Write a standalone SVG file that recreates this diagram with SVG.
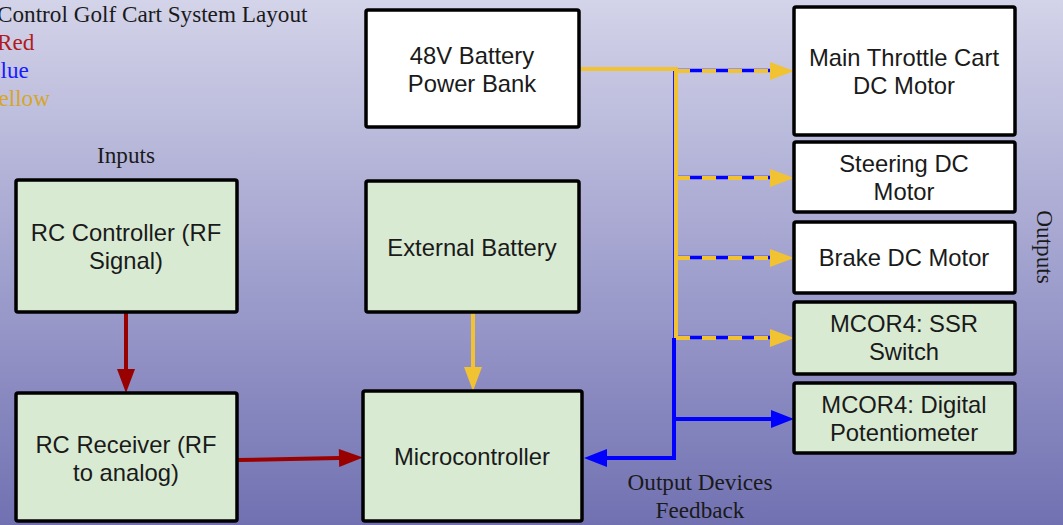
<svg xmlns="http://www.w3.org/2000/svg" width="1063" height="525" viewBox="0 0 1063 525">
<defs>
<linearGradient id="bg" x1="0" y1="0" x2="0" y2="1">
<stop offset="0" stop-color="#d3d3e9"/>
<stop offset="0.5" stop-color="#a2a2cf"/>
<stop offset="1" stop-color="#7171b2"/>
</linearGradient>
<marker id="ay" markerUnits="userSpaceOnUse" markerWidth="24" markerHeight="18" refX="0" refY="9" orient="auto" overflow="visible">
<path d="M0,0 L24,9 L0,18 z" fill="#f1c232"/>
</marker>
<marker id="ab" markerUnits="userSpaceOnUse" markerWidth="24" markerHeight="18" refX="0" refY="9" orient="auto" overflow="visible">
<path d="M0,0 L23,9 L0,18 z" fill="#0000ff"/>
</marker>
<marker id="ar" markerUnits="userSpaceOnUse" markerWidth="24" markerHeight="18" refX="0" refY="9" orient="auto" overflow="visible">
<path d="M0,0 L24,9 L0,18 z" fill="#990000"/>
</marker>
</defs>
<style>
.box{stroke:#000;stroke-width:3.5}
.g{fill:#d9ead3}
.w{fill:#ffffff}
.lbl{font-family:"Liberation Sans",Arial,sans-serif;font-size:23.8px;fill:#1a1a1a;text-anchor:middle}
.ser{font-family:"Liberation Serif","Times New Roman",serif;font-size:23.2px;fill:#1a1a1a}
.y{fill:none;stroke:#f1c232;stroke-width:4}
.yd{fill:none;stroke:#f1c232;stroke-width:4;stroke-dasharray:14 12}
.bt{fill:none;stroke:#1a1aff;stroke-width:2}
.bd{fill:none;stroke:#0000ff;stroke-width:3.5}
.b{fill:none;stroke:#0000ff;stroke-width:4}
.r{fill:none;stroke:#990000;stroke-width:4}
</style>
<rect x="0" y="0" width="1063" height="525" fill="url(#bg)"/>

<g id="legend">
<text class="ser" x="-3" y="22">Control Golf Cart System Layout</text>
<text class="ser" x="-3" y="50" style="fill:#b01c1c">Red</text>
<text class="ser" x="-15" y="78" style="fill:#1a1aff">Blue</text>
<text class="ser" x="-16" y="106" style="fill:#d6a62a">Yellow</text>
<text class="ser" x="126" y="163" text-anchor="middle">Inputs</text>
<text class="ser" x="700" y="490" text-anchor="middle">Output Devices</text>
<text class="ser" x="700" y="518" text-anchor="middle">Feedback</text>
<text class="ser" transform="translate(1037,247) rotate(90)" text-anchor="middle">Outputs</text>
</g>

<g id="connectors">
<!-- blue feedback trunk -->
<path class="bt" d="M674,69 L674,338"/>
<path class="b" d="M674,338 L674,458 L607,458" marker-end="url(#ab)"/>
<path class="b" d="M674,419 L771,419" marker-end="url(#ab)"/>
<!-- blue under dashed branches -->
<path class="bd" d="M676,70.5 L772,70.5"/>
<path class="bd" d="M676,177.5 L772,177.5"/>
<path class="bd" d="M676,257.5 L772,257.5"/>
<path class="bd" d="M676,337.5 L772,337.5"/>
<!-- yellow power -->
<path class="y" d="M580,69 L676,69 L676,338"/>
<path class="yd" d="M676,71 L770,71" marker-end="url(#ay)"/>
<path class="yd" d="M676,178 L770,178" marker-end="url(#ay)"/>
<path class="yd" d="M676,258 L770,258" marker-end="url(#ay)"/>
<path class="yd" d="M676,338 L770,338" marker-end="url(#ay)"/>
<path class="y" d="M473,312 L473,367" marker-end="url(#ay)"/>
<!-- red signal -->
<path class="r" d="M126,312 L126,369" marker-end="url(#ar)"/>
<path class="r" d="M237,460 L339,458" marker-end="url(#ar)"/>
</g>

<g id="battery48">
<rect class="box w" x="366" y="10" width="213" height="117" rx="2"/>
<text class="lbl" x="472" y="64">48V Battery</text>
<text class="lbl" x="472" y="92">Power Bank</text>
</g>

<g id="extbattery">
<rect class="box g" x="366" y="181" width="213" height="131" rx="2"/>
<text class="lbl" x="472" y="256">External Battery</text>
</g>

<g id="microcontroller">
<rect class="box g" x="363" y="391" width="219" height="130" rx="2"/>
<text class="lbl" x="472" y="465">Microcontroller</text>
</g>

<g id="rccontroller">
<rect class="box g" x="16" y="180" width="221" height="132" rx="2"/>
<text class="lbl" x="126" y="241">RC Controller (RF</text>
<text class="lbl" x="126" y="269">Signal)</text>
</g>

<g id="rcreceiver">
<rect class="box g" x="16" y="393" width="221" height="128" rx="2"/>
<text class="lbl" x="126" y="453">RC Receiver (RF</text>
<text class="lbl" x="126" y="481">to analog)</text>
</g>

<g id="mainmotor">
<rect class="box w" x="794" y="7" width="221" height="128" rx="2"/>
<text class="lbl" x="904" y="66">Main Throttle Cart</text>
<text class="lbl" x="904" y="94">DC Motor</text>
</g>

<g id="steering">
<rect class="box w" x="794" y="142" width="221" height="70" rx="2"/>
<text class="lbl" x="904" y="172">Steering DC</text>
<text class="lbl" x="904" y="200">Motor</text>
</g>

<g id="brake">
<rect class="box w" x="794" y="222" width="221" height="71" rx="2"/>
<text class="lbl" x="904" y="266">Brake DC Motor</text>
</g>

<g id="ssr">
<rect class="box g" x="794" y="302" width="221" height="72" rx="2"/>
<text class="lbl" x="904" y="332">MCOR4: SSR</text>
<text class="lbl" x="904" y="360">Switch</text>
</g>

<g id="digipot">
<rect class="box g" x="794" y="383" width="221" height="70" rx="2"/>
<text class="lbl" x="904" y="413">MCOR4: Digital</text>
<text class="lbl" x="904" y="441">Potentiometer</text>
</g>
</svg>
